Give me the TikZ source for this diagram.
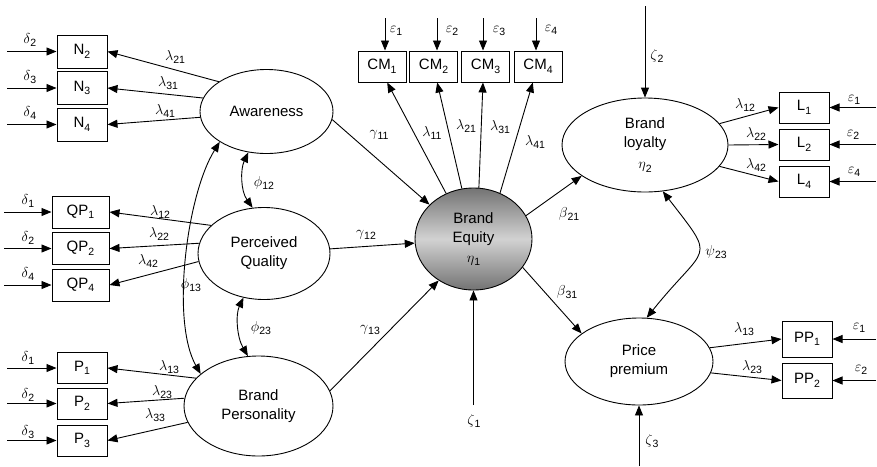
\documentclass[tikz,border=0pt]{standalone}
\usepackage{fontspec}
\setmainfont{Liberation Sans}
\usetikzlibrary{arrows.meta,shapes.geometric}
\definecolor{bedark}{HTML}{737373}
\definecolor{belight}{HTML}{D2D2D2}
\newcommand\sbs[1]{\raisebox{-3.5pt}{\fontsize{10.5}{10.5}\selectfont #1}}
\newcommand\gsym[2]{$#1$\sbs{#2}}
\begin{document}
\begin{tikzpicture}[x=1pt,y=-1pt,
  every node/.style={font=\fontsize{15}{19}\selectfont},
  lat/.style={ellipse, draw, line width=0.9pt, align=center, inner sep=0pt},
  obs/.style={rectangle, draw, line width=1pt, inner sep=0pt},
  arr/.style={line width=0.9pt, -{Triangle[length=10pt,width=8pt]}},
  darr/.style={line width=0.9pt, {Triangle[length=10pt,width=8pt]}-{Triangle[length=10pt,width=8pt]}},
  lab/.style={inner sep=0pt}]
\useasboundingbox (0,0) rectangle (877,466);

% latent variables
\node[lat, minimum width=133pt, minimum height=84pt] (A) at (266.5,111.5) {Awareness};
\node[lat, minimum width=132pt, minimum height=92pt] (Q) at (264,253.5) {Perceived\\Quality};
\node[lat, minimum width=149pt, minimum height=100pt] (P) at (258.5,406) {Brand\\Personality};
\node[lat, minimum width=117pt, minimum height=102pt, top color=bedark, bottom color=bedark, middle color=belight] (E) at (473.5,239) {Brand\\Equity\\[1pt]\gsym{\eta}{1}};
\node[lat, minimum width=166pt, minimum height=94pt] (L) at (645,145) {Brand\\loyalty\\[2pt]\gsym{\eta}{2}};
\node[lat, minimum width=148pt, minimum height=87pt] (R) at (639,361.5) {Price\\premium};

% indicators
\node[obs, minimum width=50pt, minimum height=33pt] (N2) at (82,51.5) {N\sbs{2}};
\node[obs, minimum width=50pt, minimum height=33pt] (N3) at (82,88) {N\sbs{3}};
\node[obs, minimum width=50pt, minimum height=33pt] (N4) at (82,124.5) {N\sbs{4}};
\node[obs, minimum width=57pt, minimum height=32pt] (QP1) at (80.5,212) {QP\sbs{1}};
\node[obs, minimum width=57pt, minimum height=32pt] (QP2) at (80.5,248.5) {QP\sbs{2}};
\node[obs, minimum width=57pt, minimum height=32pt] (QP4) at (80.5,285) {QP\sbs{4}};
\node[obs, minimum width=50pt, minimum height=31pt] (P1) at (82,368) {P\sbs{1}};
\node[obs, minimum width=50pt, minimum height=31pt] (P2) at (82,403.5) {P\sbs{2}};
\node[obs, minimum width=50pt, minimum height=31pt] (P3) at (82,440.5) {P\sbs{3}};
\node[obs, minimum width=48pt, minimum height=31pt] (CM1) at (382,66.5) {CM\sbs{1}};
\node[obs, minimum width=48pt, minimum height=31pt] (CM2) at (433.5,66.5) {CM\sbs{2}};
\node[obs, minimum width=48pt, minimum height=31pt] (CM3) at (485.5,66.5) {CM\sbs{3}};
\node[obs, minimum width=48pt, minimum height=31pt] (CM4) at (538,66.5) {CM\sbs{4}};
\node[obs, minimum width=50pt, minimum height=31pt] (L1) at (804,107.5) {L\sbs{1}};
\node[obs, minimum width=50pt, minimum height=31pt] (L2) at (804,144.5) {L\sbs{2}};
\node[obs, minimum width=50pt, minimum height=31pt] (L4) at (804,181.5) {L\sbs{4}};
\node[obs, minimum width=50pt, minimum height=36pt] (PP1) at (807,339) {PP\sbs{1}};
\node[obs, minimum width=50pt, minimum height=35pt] (PP2) at (807,380.5) {PP\sbs{2}};

% error sources
\coordinate (dN2) at (7,51.5);
\coordinate (dN3) at (7,88);
\coordinate (dN4) at (7,124.5);
\coordinate (dQ1) at (4,212);
\coordinate (dQ2) at (4,248.5);
\coordinate (dQ4) at (4,285);
\coordinate (dP1) at (7,368);
\coordinate (dP2) at (7,403.5);
\coordinate (dP3) at (7,440.5);
\coordinate (eC1) at (385,18);
\coordinate (eC2) at (437,18);
\coordinate (eC3) at (483,18);
\coordinate (eC4) at (536,18);
\coordinate (eL1) at (876,107.5);
\coordinate (eL2) at (876,144.5);
\coordinate (eL4) at (876,181.5);
\coordinate (eR1) at (876,339);
\coordinate (eR2) at (876,380.5);
\coordinate (z1) at (473.5,405);
\coordinate (z2) at (645,6);
\coordinate (z3) at (639,466);

\draw[arr] (dN2) -- (N2.west);
\draw[arr] (dN3) -- (N3.west);
\draw[arr] (dN4) -- (N4.west);
\draw[arr] (dQ1) -- (QP1.west);
\draw[arr] (dQ2) -- (QP2.west);
\draw[arr] (dQ4) -- (QP4.west);
\draw[arr] (dP1) -- (P1.west);
\draw[arr] (dP2) -- (P2.west);
\draw[arr] (dP3) -- (P3.west);
\draw[arr] (eC1) -- (eC1 |- CM1.north);
\draw[arr] (eC2) -- (eC2 |- CM2.north);
\draw[arr] (eC3) -- (eC3 |- CM3.north);
\draw[arr] (eC4) -- (eC4 |- CM4.north);
\draw[arr] (eL1) -- (L1.east);
\draw[arr] (eL2) -- (L2.east);
\draw[arr] (eL4) -- (L4.east);
\draw[arr] (eR1) -- (PP1.east);
\draw[arr] (eR2) -- (PP2.east);
\draw[arr] (z1) -- (E.south);
\draw[arr] (z2) -- (L.north);
\draw[arr] (z3) -- (R.south);

% loadings
\draw[arr] (A.148.7) -- (N2.east);
\draw[arr] (A.168) -- (N3.east);
\draw[arr] (A.185.7) -- (N4.east);
\draw[arr] (Q.152.5) -- (QP1.east);
\draw[arr] (Q.171.8) -- (QP2.east);
\draw[arr] (Q.187.3) -- (QP4.east);
\draw[arr] (P.156.9) -- (P1.east);
\draw[arr] (P.174.6) -- (P2.east);
\draw[arr] (P.193.7) -- (P3.east);
\draw[arr] (E.121.8) -- (CM1.-72);
\draw[arr] (E.103.2) -- (CM2.-77);
\draw[arr] (E.84) -- (CM3.-99);
\draw[arr] (E.60) -- (CM4.-108);
\draw[arr] (L.16.3) -- (L1.west);
\draw[arr] (L.0) -- (L2.west);
\draw[arr] (L.-16.3) -- (L4.west);
\draw[arr] (R.11.5) -- (PP1.west);
\draw[arr] (R.-9) -- (PP2.west);

% structural paths
\draw[arr] (A.-7.3) -- (E.142);
\draw[arr] (Q.4) -- (E.184);
\draw[arr] (P.12.1) -- (E.230);
\draw[arr] (E.24.2) -- (L.206.9);
\draw[arr] (E.-30.4) -- (R.154);

% covariances
\draw[darr] (A.246) .. controls +(-8,17) and +(-12,-17) .. (Q.104.5);
\draw[darr] (Q.245.8) .. controls +(-8,17) and +(-11,-19) .. (P.102.5);
\draw[darr] (A.213) .. controls +(-33,53) and +(-30,-53) .. (P.151.4);
\draw[darr] (L.291) .. controls +(55,71) and +(60,-75) .. (R.80);

% labels
\node[lab] (ld2a) at (30,40) {\gsym{\delta}{2}};
\node[lab] (ld3a) at (30,77) {\gsym{\delta}{3}};
\node[lab] (ld4a) at (30,113) {\gsym{\delta}{4}};
\node[lab] (ld1b) at (28,201) {\gsym{\delta}{1}};
\node[lab] (ld2b) at (28,238) {\gsym{\delta}{2}};
\node[lab] (ld4b) at (28,274) {\gsym{\delta}{4}};
\node[lab] (ld1c) at (28,358) {\gsym{\delta}{1}};
\node[lab] (ld2c) at (28,395) {\gsym{\delta}{2}};
\node[lab] (ld3c) at (28,432) {\gsym{\delta}{3}};

\node[lab] (la21) at (175,57) {\gsym{\lambda}{21}};
\node[lab] (la31) at (168,83) {\gsym{\lambda}{31}};
\node[lab] (la41) at (165,111) {\gsym{\lambda}{41}};
\node[lab] (lq12) at (160,212) {\gsym{\lambda}{12}};
\node[lab] (lq22) at (159,234) {\gsym{\lambda}{22}};
\node[lab] (lq42) at (148,261) {\gsym{\lambda}{42}};
\node[lab] (lp13) at (169,367) {\gsym{\lambda}{13}};
\node[lab] (lp23) at (162,392) {\gsym{\lambda}{23}};
\node[lab] (lp33) at (155,415) {\gsym{\lambda}{33}};

\node[lab] (lf12) at (264,183) {\gsym{\phi}{12}};
\node[lab] (lf13) at (191,285) {\gsym{\phi}{13}};
\node[lab] (lf23) at (261,328) {\gsym{\phi}{23}};

\node[lab] (lg11) at (379,135) {\gsym{\gamma}{11}};
\node[lab] (lg12) at (366,235) {\gsym{\gamma}{12}};
\node[lab] (lg13) at (370,330) {\gsym{\gamma}{13}};

\node[lab] (lc11) at (432,133) {\gsym{\lambda}{11}};
\node[lab] (lc21) at (466,126) {\gsym{\lambda}{21}};
\node[lab] (lc31) at (500,127) {\gsym{\lambda}{31}};
\node[lab] (lc41) at (535,142) {\gsym{\lambda}{41}};

\node[lab] (le1) at (396,31) {\gsym{\varepsilon}{1}};
\node[lab] (le2) at (452,31) {\gsym{\varepsilon}{2}};
\node[lab] (le3) at (499,31) {\gsym{\varepsilon}{3}};
\node[lab] (le4) at (551,30) {\gsym{\varepsilon}{4}};

\node[lab] (lb21) at (569,214) {\gsym{\beta}{21}};
\node[lab] (lb31) at (567,292) {\gsym{\beta}{31}};
\node[lab] (lz1) at (474,421) {\gsym{\zeta}{1}};
\node[lab] (lz2) at (657,56) {\gsym{\zeta}{2}};
\node[lab] (lz3) at (652,441) {\gsym{\zeta}{3}};
\node[lab] (lpsi) at (716,252) {\gsym{\psi}{23}};

\node[lab] (ll12) at (745,105) {\gsym{\lambda}{12}};
\node[lab] (ll22) at (756,134) {\gsym{\lambda}{22}};
\node[lab] (ll42) at (756,165) {\gsym{\lambda}{42}};
\node[lab] (lr13) at (744,329) {\gsym{\lambda}{13}};
\node[lab] (lr23) at (752,367) {\gsym{\lambda}{23}};

\node[lab] (lel1) at (854,100) {\gsym{\varepsilon}{1}};
\node[lab] (lel2) at (853,135) {\gsym{\varepsilon}{2}};
\node[lab] (lel4) at (854,172) {\gsym{\varepsilon}{4}};
\node[lab] (ler1) at (859,328) {\gsym{\varepsilon}{1}};
\node[lab] (ler2) at (861,370) {\gsym{\varepsilon}{2}};
\end{tikzpicture}
\end{document}
